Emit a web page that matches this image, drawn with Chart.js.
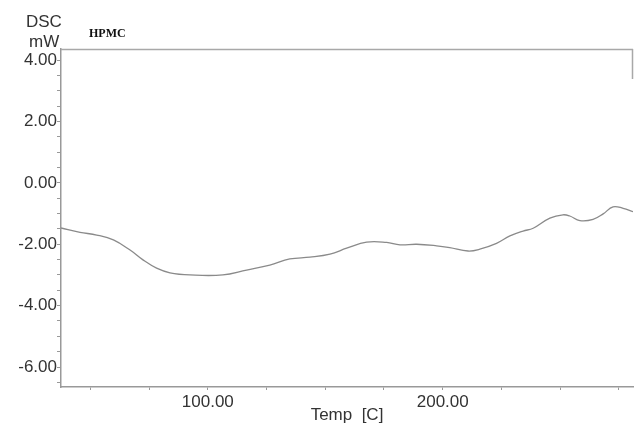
<!DOCTYPE html>
<html>
<head>
<meta charset="utf-8">
<script src="https://cdn.jsdelivr.net/npm/chart.js@4"></script>
<style>
  html, body { margin: 0; padding: 0; background: #fff; }
  #wrap { position: relative; width: 635px; height: 426px; }
  .lbl { position: absolute; font-family: "Liberation Sans", Arial, sans-serif; color: #333; font-size: 17px; line-height: 17px; }
  #title { position: absolute; left: 89px; top: 26px; font-family: "Liberation Serif", "Times New Roman", serif; font-weight: bold; font-size: 12px; color: #111; }
</style>
</head>
<body>
<div id="wrap">
  <canvas id="dsc-chart" width="635" height="426"></canvas>
  <div class="lbl" style="left:26px; top:13px;">DSC</div>
  <div class="lbl" style="left:29px; top:33px;">mW</div>
  <div id="title">HPMC</div>
</div>
<script>
// DSC thermogram - HPMC

// Temperature (C)
const temps = [37.5, 45.6, 52.7, 59.8, 66.9, 72.4, 78.2, 83.9, 92.4, 106.4,
  116.5, 126.4, 134.9, 143.5, 152.0, 159.1, 167.6, 176.1, 181.8, 188.9,
  197.4, 203.0, 210.8, 215.8, 222.9, 228.6, 234.2, 238.5, 245.6, 251.2,
  254.1, 258.4, 264.0, 268.3, 272.5, 276.8, 281.0];
// Heat flow (mW)
const heatFlow = [-1.47, -1.61, -1.70, -1.86, -2.19, -2.51, -2.78, -2.93, -3.00, -3.00,
  -2.84, -2.68, -2.48, -2.42, -2.32, -2.13, -1.93, -1.94, -2.02, -2.00,
  -2.05, -2.11, -2.22, -2.16, -1.97, -1.73, -1.57, -1.48, -1.15, -1.04,
  -1.08, -1.23, -1.19, -1.01, -0.78, -0.83, -0.94];

const xLabelled = [100, 200];
const yLabelled = [4, 2, 0, -2, -4, -6];

const points = temps.map((t, i) => ({ x: t, y: heatFlow[i] }));

// Thin frame around the plot area
const framePlugin = {
  id: 'frame',
  afterDraw(chart) {
    const a = chart.chartArea;
    const ctx = chart.ctx;
    ctx.save();
    ctx.strokeStyle = '#a8a8a8';
    ctx.lineWidth = 1.5;
    ctx.beginPath();
    ctx.moveTo(a.left, a.top + 0.5);
    ctx.lineTo(a.right, a.top + 0.5);
    ctx.moveTo(a.right - 0.5, a.top);
    ctx.lineTo(a.right - 0.5, a.top + 30);
    ctx.stroke();
    ctx.restore();
  }
};

new Chart(document.getElementById('dsc-chart'), {
  type: 'line',
  data: {
    datasets: [{
      data: points,
      borderColor: '#8a8a8a',
      borderWidth: 1.3,
      pointRadius: 0,
      tension: 0.4,
      fill: false
    }]
  },
  options: {
    responsive: false,
    animation: false,
    layout: { padding: { top: 49, right: 2, left: 0, bottom: 0 } },
    plugins: { legend: { display: false }, tooltip: { enabled: false } },
    scales: {
      x: {
        type: 'linear',
        min: 37.5,
        max: 281,
        afterFit(scale) { scale.height = 39; },
        border: { color: '#999', width: 1.5 },
        grid: { drawOnChartArea: false, drawTicks: true, tickLength: 3, color: '#999' },
        ticks: {
          stepSize: 25,
          includeBounds: false,
          autoSkip: false,
          maxRotation: 0,
          padding: 2,
          color: '#333',
          font: { family: 'Liberation Sans, Arial, sans-serif', size: 17 },
          callback: v => xLabelled.includes(v) ? v.toFixed(2) : ''
        },
        title: {
          display: true,
          text: 'Temp  [C]',
          color: '#333',
          padding: { top: 0, bottom: 0 },
          font: { family: 'Liberation Sans, Arial, sans-serif', size: 17 }
        }
      },
      y: {
        min: -6.65,
        max: 4.36,
        afterFit(scale) { scale.width = 61; },
        border: { color: '#999', width: 1.5 },
        grid: { drawOnChartArea: false, drawTicks: true, tickLength: 4, color: '#999' },
        ticks: {
          stepSize: 0.5,
          includeBounds: false,
          autoSkip: false,
          padding: 0,
          color: '#333',
          font: { family: 'Liberation Sans, Arial, sans-serif', size: 17 },
          callback: v => yLabelled.includes(v) ? v.toFixed(2) : ''
        }
      }
    }
  },
  plugins: [framePlugin]
});
</script>
</body>
</html>
